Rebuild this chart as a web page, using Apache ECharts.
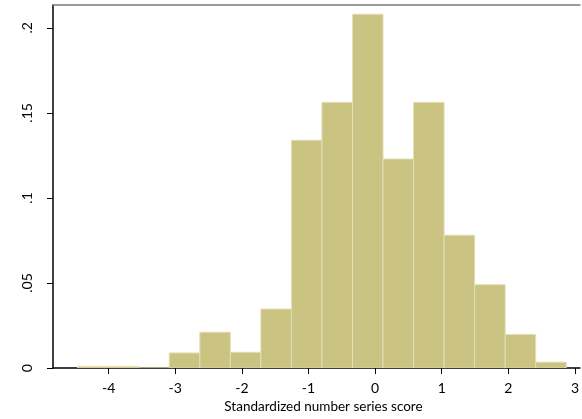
<!DOCTYPE html>
<html>
<head>
<meta charset="utf-8">
<script src="https://cdn.jsdelivr.net/npm/echarts@6/dist/echarts.min.js"></script>
<style>
html,body{margin:0;padding:0;background:#fff;}
#chart{width:582px;height:419px;}
</style>
</head>
<body>
<div id="chart"></div>
<script>
// Histogram bin edges (standardized score)
var binEdges = [-4.465, -4.007, -3.548, -3.090, -2.631, -2.173, -1.715, -1.256, -0.798, -0.339, 0.119, 0.577, 1.036, 1.494, 1.953, 2.411, 2.869];
// Density per bin
var densities = [0.001, 0.001, 0, 0.0089, 0.0211, 0.0093, 0.0347, 0.1339, 0.1562, 0.2080, 0.1229, 0.1562, 0.0781, 0.0490, 0.0198, 0.0035];
// Tick values
var xTicks = [-4, -3, -2, -1, 0, 1, 2, 3];
var yTicks = [0, 0.05, 0.1, 0.15, 0.2];
var yTickLabels = ['0', '.05', '.1', '.15', '.2'];
var xTitle = 'Standardized number series score';

var barData = [];
for (var i = 0; i < densities.length; i++) {
  barData.push([binEdges[i], binEdges[i + 1], densities[i]]);
}

var FONT = 'Lato';
var chart = echarts.init(document.getElementById('chart'), null, {renderer: 'canvas'});
chart.setOption({
  animation: false,
  backgroundColor: '#ffffff',
  grid: {left: 53, right: 1, top: 5, bottom: 47, containLabel: false},
  xAxis: [{
    type: 'value',
    min: -4.835,
    max: 3.075,
    position: 'bottom',
    splitLine: {show: false},
    axisLine: {show: true, onZero: false, lineStyle: {color: '#000', width: 1.5}},
    axisTick: {show: true, customValues: xTicks, length: 6, lineStyle: {color: '#000', width: 1}},
    axisLabel: {
      customValues: xTicks, color: '#000', fontFamily: FONT, fontSize: 14, margin: 13,
      formatter: function (v) { return String(v); }
    },
    name: xTitle,
    nameLocation: 'middle',
    nameGap: 27,
    nameTextStyle: {color: '#000', fontFamily: FONT, fontSize: 13.5, padding: [0, 0, 0, 14]}
  }, {
    type: 'value',
    min: -4.835,
    max: 3.075,
    position: 'top',
    splitLine: {show: false},
    axisLine: {show: true, onZero: false, lineStyle: {color: '#7a7a7a', width: 1.5}},
    axisTick: {show: false},
    axisLabel: {show: false}
  }],
  yAxis: {
    type: 'value',
    min: 0,
    max: 0.2134,
    splitLine: {show: false},
    axisLine: {show: true, onZero: false, lineStyle: {color: '#000', width: 1.5}},
    axisTick: {show: true, customValues: yTicks, length: 6, lineStyle: {color: '#000', width: 1}},
    axisLabel: {
      customValues: yTicks, color: '#000', fontFamily: FONT, fontSize: 14, rotate: 90, margin: 19,
      formatter: function (v) {
        for (var k = 0; k < yTicks.length; k++) {
          if (Math.abs(yTicks[k] - v) < 1e-9) return yTickLabels[k];
        }
        return '';
      }
    }
  },
  series: [{
    type: 'custom',
    xAxisIndex: 0,
    yAxisIndex: 0,
    clip: true,
    encode: {x: [0, 1], y: 2},
    renderItem: function (params, api) {
      var p0 = api.coord([api.value(0), 0]);
      var p1 = api.coord([api.value(1), api.value(2)]);
      return {
        type: 'rect',
        shape: {x: p0[0], y: p1[1], width: p1[0] - p0[0], height: p0[1] - p1[1]},
        style: {fill: '#cac381', stroke: '#e3dfb6', lineWidth: 1}
      };
    },
    data: barData,
    z: 1
  }]
});
</script>
</body>
</html>
